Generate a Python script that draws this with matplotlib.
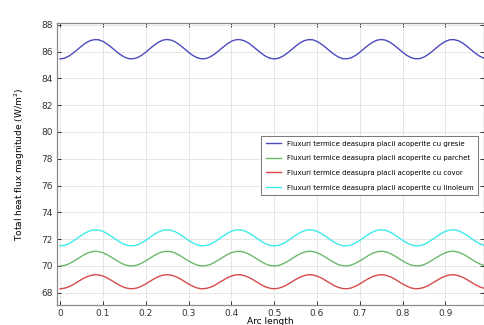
import numpy as np
import matplotlib
matplotlib.use("Agg")
import matplotlib.pyplot as plt

# Arc length grid (0 .. 0.99, step 0.01)
arc_length = np.linspace(0, 0.99, 100)

# Fluxuri termice (W/m^2)
gresie = [
    85.45, 85.50, 85.65, 85.87, 86.13, 86.40, 86.64, 86.81, 86.89, 86.88,
    86.76, 86.56, 86.31, 86.04, 85.79, 85.59, 85.47, 85.46, 85.54, 85.71,
    85.95, 86.22, 86.48, 86.70, 86.85, 86.90, 86.85, 86.70, 86.48, 86.22,
    85.95, 85.71, 85.54, 85.46, 85.47, 85.59, 85.79, 86.04, 86.31, 86.56,
    86.76, 86.88, 86.89, 86.81, 86.64, 86.40, 86.13, 85.87, 85.65, 85.50,
    85.45, 85.50, 85.65, 85.87, 86.13, 86.40, 86.64, 86.81, 86.89, 86.88,
    86.76, 86.56, 86.31, 86.04, 85.79, 85.59, 85.47, 85.46, 85.54, 85.71,
    85.95, 86.22, 86.48, 86.70, 86.85, 86.90, 86.85, 86.70, 86.48, 86.22,
    85.95, 85.71, 85.54, 85.46, 85.47, 85.59, 85.79, 86.04, 86.31, 86.56,
    86.76, 86.88, 86.89, 86.81, 86.64, 86.40, 86.13, 85.87, 85.65, 85.50,
]
parchet = [
    70.00, 70.04, 70.15, 70.32, 70.52, 70.72, 70.90, 71.03, 71.10, 71.08,
    70.99, 70.84, 70.65, 70.45, 70.26, 70.10, 70.02, 70.00, 70.07, 70.20,
    70.38, 70.58, 70.78, 70.95, 71.06, 71.10, 71.06, 70.95, 70.78, 70.58,
    70.38, 70.20, 70.07, 70.00, 70.02, 70.10, 70.26, 70.45, 70.65, 70.84,
    70.99, 71.08, 71.10, 71.03, 70.90, 70.72, 70.52, 70.32, 70.15, 70.04,
    70.00, 70.04, 70.15, 70.32, 70.52, 70.72, 70.90, 71.03, 71.10, 71.08,
    70.99, 70.84, 70.65, 70.45, 70.26, 70.10, 70.02, 70.00, 70.07, 70.20,
    70.38, 70.58, 70.78, 70.95, 71.06, 71.10, 71.06, 70.95, 70.78, 70.58,
    70.38, 70.20, 70.07, 70.00, 70.02, 70.10, 70.26, 70.45, 70.65, 70.84,
    70.99, 71.08, 71.10, 71.03, 70.90, 70.72, 70.52, 70.32, 70.15, 70.04,
]
covor = [
    68.30, 68.34, 68.44, 68.60, 68.79, 68.99, 69.16, 69.28, 69.35, 69.33,
    69.25, 69.11, 68.92, 68.73, 68.54, 68.40, 68.32, 68.30, 68.36, 68.49,
    68.66, 68.86, 69.05, 69.21, 69.31, 69.35, 69.31, 69.21, 69.05, 68.86,
    68.66, 68.49, 68.36, 68.30, 68.32, 68.40, 68.54, 68.73, 68.92, 69.11,
    69.25, 69.33, 69.35, 69.28, 69.16, 68.99, 68.79, 68.60, 68.44, 68.34,
    68.30, 68.34, 68.44, 68.60, 68.79, 68.99, 69.16, 69.28, 69.35, 69.33,
    69.25, 69.11, 68.92, 68.73, 68.54, 68.40, 68.32, 68.30, 68.36, 68.49,
    68.66, 68.86, 69.05, 69.21, 69.31, 69.35, 69.31, 69.21, 69.05, 68.86,
    68.66, 68.49, 68.36, 68.30, 68.32, 68.40, 68.54, 68.73, 68.92, 69.11,
    69.25, 69.33, 69.35, 69.28, 69.16, 68.99, 68.79, 68.60, 68.44, 68.34,
]
linoleum = [
    71.50, 71.54, 71.66, 71.84, 72.06, 72.29, 72.48, 72.63, 72.70, 72.68,
    72.59, 72.42, 72.21, 71.99, 71.78, 71.61, 71.52, 71.50, 71.57, 71.72,
    71.91, 72.14, 72.36, 72.54, 72.66, 72.70, 72.66, 72.54, 72.36, 72.14,
    71.91, 71.72, 71.57, 71.50, 71.52, 71.61, 71.78, 71.99, 72.21, 72.42,
    72.59, 72.68, 72.70, 72.63, 72.48, 72.29, 72.06, 71.84, 71.66, 71.54,
    71.50, 71.54, 71.66, 71.84, 72.06, 72.29, 72.48, 72.63, 72.70, 72.68,
    72.59, 72.42, 72.21, 71.99, 71.78, 71.61, 71.52, 71.50, 71.57, 71.72,
    71.91, 72.14, 72.36, 72.54, 72.66, 72.70, 72.66, 72.54, 72.36, 72.14,
    71.91, 71.72, 71.57, 71.50, 71.52, 71.61, 71.78, 71.99, 72.21, 72.42,
    72.59, 72.68, 72.70, 72.63, 72.48, 72.29, 72.06, 71.84, 71.66, 71.54,
]

labels = [
    "Fluxuri termice deasupra placii acoperite cu gresie",
    "Fluxuri termice deasupra placii acoperite cu parchet",
    "Fluxuri termice deasupra placii acoperite cu covor",
    "Fluxuri termice deasupra placii acoperite cu linoleum",
]
colors = ["#4b4bbf", "#6cb86c", "#d84a4a", "#3feaea"]

x_ticks = [0, 0.1, 0.2, 0.3, 0.4, 0.5, 0.6, 0.7, 0.8, 0.9]
x_tick_labels = ["0", "0.1", "0.2", "0.3", "0.4", "0.5", "0.6", "0.7", "0.8", "0.9"]
y_ticks = list(range(68, 89, 2))

fig = plt.figure(figsize=(4.84, 3.25), dpi=100)
ax = fig.add_axes([0.117, 0.062, 0.883, 0.866])

for serie, lab, col in zip([gresie, parchet, covor, linoleum], labels, colors):
    ax.plot(arc_length, serie, color=col, linewidth=1.0, label=lab)

ax.set_xlim(-0.008, 0.99)
ax.set_ylim(67.1, 88.1)
ax.set_xticks(x_ticks)
ax.set_xticklabels(x_tick_labels)
ax.set_yticks(y_ticks)
ax.grid(True, color="#e6e6e6", linewidth=0.7)
ax.set_axisbelow(True)

ax.tick_params(direction="in", top=True, right=True, length=3, width=0.7,
               labelsize=6.5, colors="#333333", pad=3)
for sp in ax.spines.values():
    sp.set_color("#8a8a8a")
    sp.set_linewidth(0.9)

ax.set_xlabel("Arc length", fontsize=6.5, labelpad=-1)
ax.set_ylabel("Total heat flux magnitude (W/m$^2$)", fontsize=6.5, labelpad=10)

leg = ax.legend(loc="upper right", bbox_to_anchor=(0.987, 0.601), borderaxespad=0,
                fontsize=5.0, handlelength=2.2, fancybox=False, framealpha=1,
                edgecolor="#777777", labelspacing=1.25, borderpad=0.7)
leg.get_frame().set_linewidth(0.7)

fig.savefig("out.png", dpi=100)
